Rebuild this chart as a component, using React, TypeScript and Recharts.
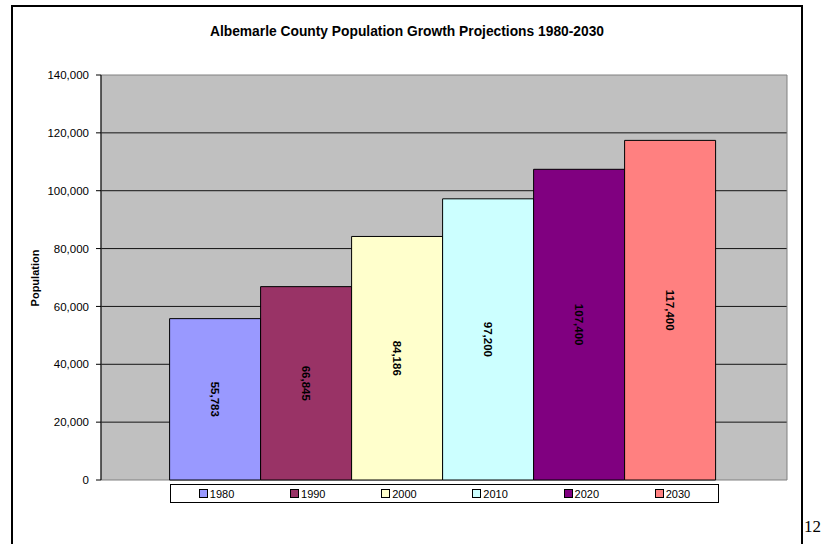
import React from 'react';
import {
  BarChart, Bar, XAxis, YAxis, CartesianGrid, LabelList, ReferenceArea,
} from 'recharts';

// census / projection years, one series each
const years = ['1980', '1990', '2000', '2010', '2020', '2030'];
const population = [55783, 66845, 84186, 97200, 107400, 117400];
const colors = ['#9999FF', '#993366', '#FFFFCC', '#CCFFFF', '#800080', '#FF8080'];
const yTicks = [0, 20000, 40000, 60000, 80000, 100000, 120000, 140000];
const gridValues = [20000, 40000, 60000, 80000, 100000, 120000];

const row: Record<string, string | number> = { name: 'Albemarle' };
years.forEach((y, i) => {
  row[y] = population[i];
});
const data = [row];

const FONT = '"Liberation Sans", Arial, Helvetica, sans-serif';
const fmt = (v: number) => v.toLocaleString('en-US');

const renderValue = (props: any) => {
  const { x, y, width, height, value } = props;
  const cx = Number(x) + Number(width) / 2;
  const cy = Number(y) + Number(height) / 2;
  return (
    <text
      x={cx}
      y={cy}
      transform={`rotate(90 ${cx} ${cy})`}
      textAnchor="middle"
      dominantBaseline="central"
      fontFamily={FONT}
      fontSize={11.5}
      fontWeight="bold"
      fill="#000"
    >
      {fmt(Number(value))}
    </text>
  );
};

export default function App() {
  return (
    <div
      style={{
        position: 'absolute', left: 0, top: 0, width: 824, height: 544,
        overflow: 'hidden', background: '#fff', fontFamily: FONT,
      }}
    >
      {/* page frame */}
      <div
        style={{
          position: 'absolute', left: 11, top: 5, width: 792, height: 560,
          border: '2px solid #000', boxSizing: 'border-box',
        }}
      />

      <div
        style={{
          position: 'absolute', left: 13, width: 788, top: 24, textAlign: 'center',
          fontSize: 13.8, fontWeight: 'bold', color: '#000',
        }}
      >
        Albemarle County Population Growth Projections 1980-2030
      </div>

      <div
        style={{
          position: 'absolute', left: 35, top: 278, fontSize: 11, fontWeight: 'bold',
          transform: 'translate(-50%, -50%) rotate(-90deg)', whiteSpace: 'nowrap',
        }}
      >
        Population
      </div>

      <div style={{ position: 'absolute', left: 0, top: 0 }}>
        <BarChart
          width={824}
          height={544}
          data={data}
          margin={{ top: 75, right: 37, bottom: 64, left: 11 }}
          barCategoryGap="10%"
          barGap={0}
        >
          <CartesianGrid
            vertical={false}
            horizontalValues={gridValues}
            stroke="#000"
            strokeOpacity={0.9}
            fill="#C0C0C0"
            fillOpacity={1}
          />
          <ReferenceArea y1={0} y2={140000} fill="none" stroke="#808080" ifOverflow="visible" />
          <XAxis dataKey="name" tick={false} height={0} axisLine={{ stroke: '#000' }} tickLine={false} />
          <YAxis
            width={90}
            domain={[0, 140000]}
            ticks={yTicks}
            tickFormatter={fmt}
            tick={{ fontSize: 11.5, fill: '#000', fontFamily: FONT }}
            tickSize={5}
            tickMargin={7}
            axisLine={{ stroke: '#000' }}
            tickLine={{ stroke: '#000' }}
          />
          {years.map((y, i) => (
            <Bar
              key={y}
              dataKey={y}
              fill={colors[i]}
              stroke="#000"
              strokeWidth={1}
              isAnimationActive={false}
            >
              <LabelList dataKey={y} content={renderValue} />
            </Bar>
          ))}
        </BarChart>
      </div>

      {/* legend */}
      <div
        style={{
          position: 'absolute', left: 170, top: 484, width: 549, height: 19,
          border: '1px solid #000', boxSizing: 'border-box', background: '#fff',
          display: 'flex', alignItems: 'center',
        }}
      >
        {years.map((y, i) => (
          <div
            key={y}
            style={{
              flex: 1, display: 'flex', alignItems: 'center', justifyContent: 'center',
              fontSize: 11, color: '#000',
            }}
          >
            <span
              style={{
                display: 'inline-block', width: 7, height: 7, background: colors[i],
                border: '1px solid #000', marginRight: 2,
              }}
            />
            {y}
          </div>
        ))}
      </div>

      <div
        style={{
          position: 'absolute', left: 804, top: 517, fontSize: 17,
          fontFamily: '"Liberation Serif", "Times New Roman", serif', color: '#000',
        }}
      >
        12
      </div>
    </div>
  );
}
